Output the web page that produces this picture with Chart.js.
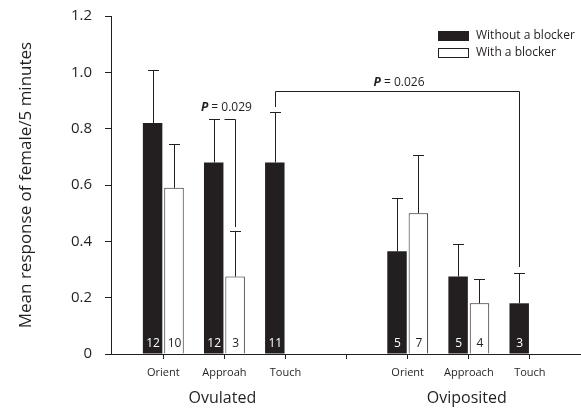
<!DOCTYPE html>
<html>
<head>
<meta charset="utf-8">
<script src="https://cdn.jsdelivr.net/npm/chart.js@4.4.1/dist/chart.umd.min.js"></script>
<style>
  body { margin: 0; background: #fff; }
  canvas { display: block; }
</style>
</head>
<body>
<canvas id="chart" width="581" height="408"></canvas>
<script>
// categories along x (index 3 is the gap between the two groups)
const xLabels = ["Orient", "Approah", "Touch", "", "Orient", "Approach", "Touch"];
const groupLabels = [{ at: 1, text: "Ovulated" }, { at: 5, text: "Oviposited" }];

// means, standard errors and sample sizes
const withoutMean = [0.82, 0.68, 0.68, null, 0.365, 0.275, 0.18];
const withoutErr  = [0.19, 0.155, 0.18, null, 0.19, 0.115, 0.107];
const withoutN    = [12, 12, 11, null, 5, 5, 3];

const withMean = [0.59, 0.275, null, null, 0.50, 0.18, null];
const withErr  = [0.155, 0.16, null, null, 0.205, 0.085, null];
const withN    = [10, 3, null, null, 7, 4, null];

const yTicks = [0, 0.2, 0.4, 0.6, 0.8, 1.0, 1.2];

// significance brackets: ds 0 = without, 1 = with
const brackets = [
  { p: "0.029", level: 0.833, gap: 12, left: { cat: 1, ds: 0, edge: true, drop: null }, right: { cat: 1, ds: 1, drop: 0.45 } },
  { p: "0.026", level: 0.934, gap: 9, left: { cat: 2, ds: 0, drop: 0.877 }, right: { cat: 6, ds: 0, drop: 0.31 } }
];

const INK = "#231f20";
const FONT = "'Open Sans', 'DejaVu Sans', sans-serif";

function toPoints(arr) {
  return arr.map((v, i) => ({ x: i, y: v }));
}

const errorsAndNotes = {
  id: "errorsAndNotes",
  afterDatasetsDraw(chart) {
    const ctx = chart.ctx;
    const y = chart.scales.y;
    const x = chart.scales.x;
    const area = chart.chartArea;
    const errs = [withoutErr, withErr];
    const ns = [withoutN, withN];
    const means = [withoutMean, withMean];

    ctx.save();
    ctx.strokeStyle = INK;
    ctx.lineWidth = 1;

    // error bars (upper only)
    [0, 1].forEach(d => {
      const meta = chart.getDatasetMeta(d);
      means[d].forEach((m, i) => {
        if (m == null) return;
        const bar = meta.data[i];
        const top = Math.round(y.getPixelForValue(m + errs[d][i]));
        const cx = Math.round(bar.x) + 0.5;
        ctx.beginPath();
        ctx.moveTo(cx, bar.y);
        ctx.lineTo(cx, top + 0.5);
        ctx.moveTo(cx - 5.5, top + 0.5);
        ctx.lineTo(cx + 5.5, top + 0.5);
        ctx.stroke();

        // sample size inside bar
        ctx.font = "12px " + FONT;
        ctx.textAlign = "center";
        ctx.textBaseline = "middle";
        ctx.fillStyle = d === 0 ? "#fff" : INK;
        ctx.fillText(String(ns[d][i]), bar.x + 0.5, bar.base - 10);
      });
    });

    // brackets
    brackets.forEach(b => {
      const lb = chart.getDatasetMeta(b.left.ds).data[b.left.cat];
      const rb = chart.getDatasetMeta(b.right.ds).data[b.right.cat];
      const lx = b.left.edge ? Math.round(lb.x + lb.width / 2) + 1.5 : Math.round(lb.x) + 0.5;
      const rx = Math.round(rb.x) + 0.5;
      const ly = Math.round(y.getPixelForValue(b.level)) + 0.5;
      ctx.strokeStyle = INK;
      ctx.beginPath();
      if (b.left.drop != null) {
        ctx.moveTo(lx, Math.round(y.getPixelForValue(b.left.drop)));
        ctx.lineTo(lx, ly);
      } else {
        ctx.moveTo(lx, ly);
      }
      ctx.lineTo(rx, ly);
      ctx.lineTo(rx, Math.round(y.getPixelForValue(b.right.drop)));
      ctx.stroke();

      const mid = (lb.x + rb.x) / 2 + 2;
      const ty = ly - b.gap;
      ctx.fillStyle = INK;
      ctx.textBaseline = "middle";
      ctx.font = "italic bold 12px " + FONT;
      const pW = ctx.measureText("P").width;
      ctx.font = "12px " + FONT;
      const rest = " = " + b.p;
      const rW = ctx.measureText(rest).width;
      const start = mid - (pW + rW) / 2;
      ctx.textAlign = "left";
      ctx.font = "italic bold 12px " + FONT;
      ctx.fillText("P", start, ty);
      ctx.font = "12px " + FONT;
      ctx.fillText(rest, start + pW, ty);
    });

    // group labels under the axis
    ctx.fillStyle = INK;
    ctx.font = "16px " + FONT;
    ctx.textAlign = "center";
    ctx.textBaseline = "middle";
    groupLabels.forEach(g => {
      ctx.fillText(g.text, x.getPixelForValue(g.at) - 2, 398);
    });

    // legend
    const lx0 = area.right - 142;
    chart.data.datasets.forEach((ds, i) => {
      const ty = 31 + i * 17;
      ctx.fillStyle = ds.backgroundColor;
      ctx.fillRect(lx0, ty, 31, 10);
      ctx.strokeStyle = INK;
      ctx.strokeRect(lx0 + 0.5, ty + 0.5, 30, 9);
      ctx.fillStyle = INK;
      ctx.font = "12px " + FONT;
      ctx.textAlign = "left";
      ctx.textBaseline = "middle";
      ctx.fillText(ds.label, lx0 + 38, ty + 5);
    });
    ctx.restore();
  }
};

new Chart(document.getElementById("chart"), {
  type: "bar",
  data: {
    datasets: [
      {
        label: "Without a blocker",
        data: toPoints(withoutMean),
        backgroundColor: INK,
        borderWidth: 0
      },
      {
        label: "With a blocker",
        data: toPoints(withMean),
        backgroundColor: "#ffffff",
        borderColor: INK,
        borderWidth: 1
      }
    ]
  },
  options: {
    responsive: false,
    animation: false,
    devicePixelRatio: 1,
    barPercentage: 0.91,
    categoryPercentage: 0.7,
    layout: { padding: { top: 16, right: 1, left: 0, bottom: 0 } },
    plugins: {
      legend: { display: false },
      tooltip: { enabled: false }
    },
    scales: {
      x: {
        type: "linear",
        min: -0.856,
        max: 6.82,
        offset: false,
        grid: { drawOnChartArea: false, offset: false, tickLength: 5, color: INK },
        border: { color: INK, width: 1 },
        afterBuildTicks: s => { s.ticks = xLabels.map((_, i) => ({ value: i })); },
        afterFit: s => { s.height = 54; },
        ticks: {
          autoSkip: false,
          maxRotation: 0,
          padding: 7,
          color: INK,
          font: { family: FONT, size: 11 },
          callback: v => xLabels[v] ?? ""
        }
      },
      y: {
        min: 0,
        max: 1.2,
        grid: { drawOnChartArea: false, tickLength: 6, color: INK },
        border: { color: INK, width: 1 },
        afterBuildTicks: s => { s.ticks = yTicks.map(v => ({ value: v })); },
        afterFit: s => { s.width = 111; s.paddingTop = 0; s.paddingBottom = 0; },
        ticks: {
          padding: 13,
          color: INK,
          font: { family: FONT, size: 15 },
          callback: v => v === 0 ? "0" : v.toFixed(1)
        },
        title: {
          display: true,
          text: "Mean response of female/5 minutes",
          color: INK,
          font: { family: FONT, size: 17 },
          padding: { top: 16, bottom: 0 }
        }
      }
    }
  },
  plugins: [errorsAndNotes]
});
</script>
</body>
</html>
